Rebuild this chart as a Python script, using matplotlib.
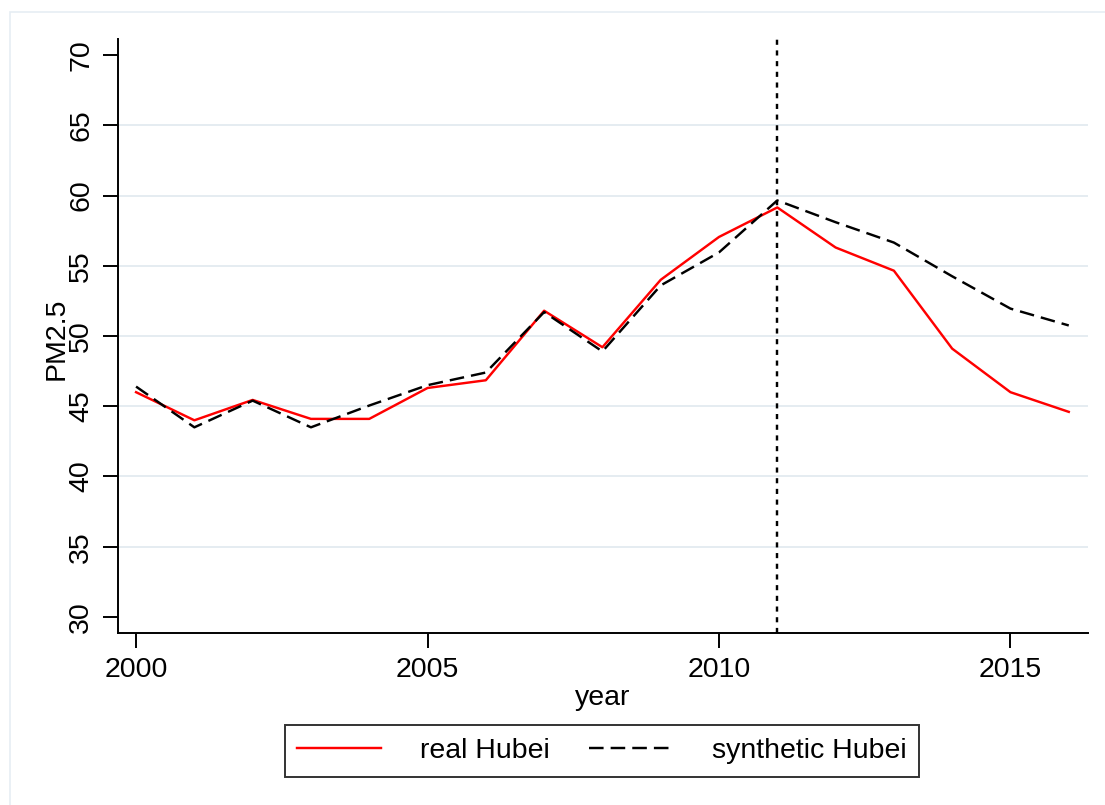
import matplotlib
matplotlib.use("Agg")
import matplotlib.pyplot as plt
from matplotlib.lines import Line2D
from matplotlib.patches import Rectangle

plt.rcParams['font.family'] = ['Liberation Sans', 'DejaVu Sans']

years = list(range(2000, 2017))
real_hubei = [46.0, 44.0, 45.45, 44.1, 44.1, 46.3, 46.85, 51.8, 49.2, 54.0,
              57.05, 59.15, 56.3, 54.65, 49.1, 46.0, 44.6]
synthetic_hubei = [46.4, 43.5, 45.4, 43.5, 45.05, 46.5, 47.4, 51.7, 48.9, 53.6,
                   55.95, 59.65, 58.1, 56.65, 54.25, 51.95, 50.75]
treatment_year = 2011

x_ticks = [2000, 2005, 2010, 2015]
y_ticks = [30, 35, 40, 45, 50, 55, 60, 65, 70]
grid_levels = [35, 40, 45, 50, 55, 60, 65]

W, H = 1105, 805
fig = plt.figure(figsize=(W / 100, H / 100), dpi=100)
fig.patch.set_facecolor("white")

# faint outer graph-region frame
fig.add_artist(Rectangle((10 / W, -0.05), 1.2, 1 - 12 / H + 0.05,
                         transform=fig.transFigure, fill=False,
                         edgecolor="#e6edf3", linewidth=1.2))

ax = fig.add_axes([118 / W, 1 - 633 / H, (1088 - 118) / W, (633 - 39) / H])
ax.set_facecolor("white")

for g in grid_levels:
    ax.axhline(g, color="#e3ebf0", linewidth=1.3, zorder=0)

LW = 1.75
SYN_DASH = (6, 2.9)
ax.plot(years, real_hubei, color="#ff0000", linewidth=LW, zorder=3)
ax.plot(years, synthetic_hubei, color="black", linewidth=LW,
        dashes=SYN_DASH, zorder=3)
ax.axvline(treatment_year, color="black", linewidth=LW,
           dashes=(2.1, 2.3), zorder=4)

ax.set_xlim(1999.69, 2016.33)
ax.set_ylim(28.86, 71.14)
ax.set_xticks(x_ticks)
ax.set_yticks(y_ticks)
ax.set_yticklabels([str(v) for v in y_ticks], rotation=90, va="center")

for side in ("top", "right"):
    ax.spines[side].set_visible(False)
for side in ("left", "bottom"):
    ax.spines[side].set_linewidth(1.4)
    ax.spines[side].set_color("black")

ax.tick_params(axis="both", direction="out", length=11, width=1.4,
               labelsize=20.5, colors="black", pad=6)

ax.set_xlabel("year", fontsize=20.5, labelpad=2)
ax.set_ylabel("PM2.5", fontsize=20.5)
ax.yaxis.set_label_coords((57 - 118) / 970, (633 - 339) / 594)
ax.yaxis.label.set_va("center")
ax.yaxis.label.set_ha("center")

handles = [Line2D([], [], color="#ff0000", linewidth=LW),
           Line2D([], [], color="black", linewidth=LW, dashes=SYN_DASH)]
leg = fig.legend(handles, ["real Hubei", "synthetic Hubei"],
                 loc="center", bbox_to_anchor=(602 / W, 1 - 751 / H),
                 ncol=2, fontsize=20.5, frameon=True, fancybox=False,
                 handlelength=2.95, handletextpad=1.35, columnspacing=1.4,
                 borderpad=0.45, borderaxespad=0)
leg.get_frame().set_edgecolor("black")
leg.get_frame().set_linewidth(1.4)

fig.savefig("out.png", dpi=100, facecolor="white")
